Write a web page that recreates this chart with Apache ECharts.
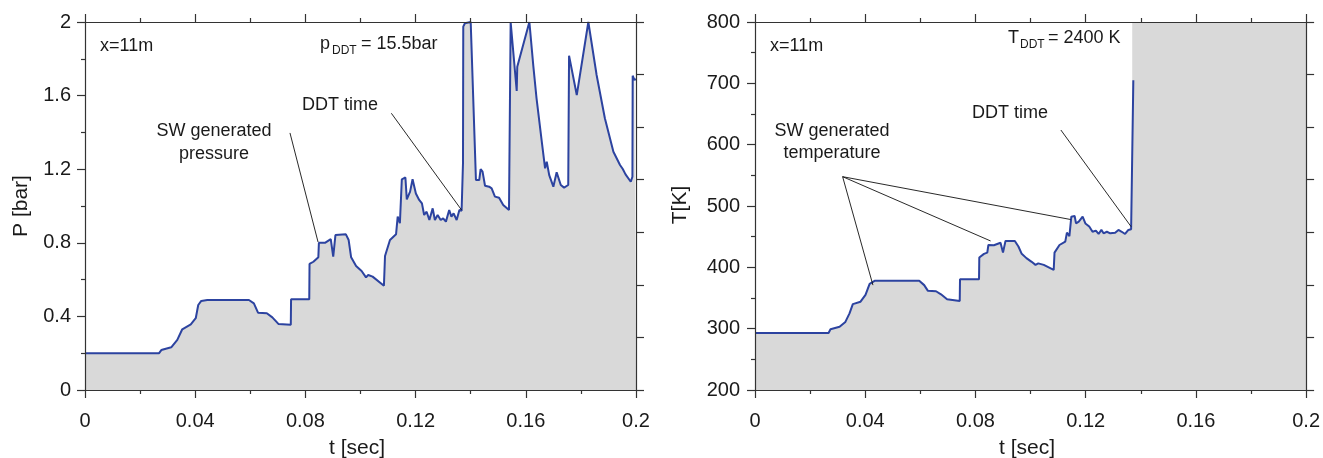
<!DOCTYPE html>
<html><head><meta charset="utf-8">
<script src="https://cdn.jsdelivr.net/npm/echarts@6/dist/echarts.min.js"></script>
<style>html,body{margin:0;padding:0;background:#fff}#c{width:1323px;height:458px}</style>
</head><body><div id="c"></div>
<script>
// ---- data ----
const tP = [0,0.0269,0.0277,0.0313,0.0335,0.0353,0.0384,0.0402,0.0411,0.0422,0.0444,0.0595,0.0613,0.0628,0.066,0.068,0.0702,0.0747,0.0748,0.0814,0.0815,0.0829,0.0847,0.0849,0.0871,0.0892,0.0901,0.0909,0.0947,0.0957,0.0966,0.0984,0.1004,0.102,0.1028,0.1044,0.1085,0.1089,0.1107,0.1129,0.1135,0.1143,0.115,0.1163,0.1168,0.118,0.1189,0.1201,0.1213,0.1223,0.1231,0.124,0.125,0.1262,0.127,0.128,0.1291,0.13,0.131,0.1322,0.133,0.1338,0.1349,0.1359,0.1367,0.1371,0.1372,0.1373,0.1379,0.14,0.1419,0.1431,0.1436,0.1443,0.1452,0.1467,0.1476,0.1488,0.1503,0.1518,0.1539,0.1545,0.1567,0.1569,0.1613,0.1627,0.1639,0.1658,0.167,0.1676,0.1685,0.17,0.1712,0.1727,0.1739,0.1754,0.1757,0.1785,0.1827,0.1857,0.1887,0.1918,0.1942,0.1952,0.1962,0.1981,0.1987,0.1988,0.1994,0.2];
const pVals = [0.2,0.2,0.217,0.232,0.272,0.33,0.357,0.39,0.462,0.484,0.489,0.489,0.471,0.42,0.417,0.395,0.359,0.355,0.493,0.493,0.685,0.697,0.721,0.8,0.8,0.82,0.725,0.842,0.846,0.815,0.721,0.674,0.647,0.612,0.625,0.616,0.567,0.728,0.815,0.846,0.942,0.906,1.145,1.155,1.036,1.078,1.145,1.068,1.033,1.014,0.951,0.969,0.924,0.987,0.924,0.951,0.924,0.933,0.915,0.978,0.942,0.96,0.924,0.978,0.974,0.978,1.232,1.975,1.993,2.0,1.141,1.141,1.201,1.187,1.11,1.105,1.096,1.051,1.045,1.005,0.978,2.0,1.625,1.757,2.0,1.766,1.585,1.35,1.205,1.241,1.168,1.105,1.183,1.114,1.1,1.114,1.817,1.603,2.0,1.712,1.477,1.295,1.223,1.201,1.172,1.132,1.159,1.708,1.685,1.69];

const tT = [0,0.0267,0.0274,0.0307,0.0328,0.0343,0.0355,0.0383,0.0401,0.0416,0.0434,0.0596,0.0614,0.0627,0.0657,0.0675,0.0697,0.0704,0.0743,0.0744,0.0813,0.0814,0.0831,0.0843,0.0847,0.0867,0.0891,0.09,0.0909,0.0943,0.0956,0.0968,0.0985,0.1004,0.1018,0.1028,0.1048,0.1084,0.1087,0.1105,0.1126,0.1132,0.1141,0.1148,0.116,0.1165,0.1175,0.1189,0.1199,0.1213,0.1225,0.1237,0.1247,0.1257,0.1265,0.1277,0.1289,0.1307,0.1319,0.1331,0.1343,0.1355,0.1365,0.1372,0.1373];
const tempVals = [293,293,299,303,311,325,340,344,355,373,378,378,371,362,361,356,348,345.7,345,380.5,380.5,416,422,424,436.4,436,440,424,443,443,434,422,415,409,404,406.5,404,395.7,424,436.4,442,456.5,451,482.6,483.7,471.6,474.5,482.6,471.6,466.5,458,459.8,454.4,461,455.5,458,455.5,456.5,461,458,454.4,461,462,465,705];
const tAfterDDT = [0.1369,0.2];
const tempAfterDDT = [2400,2400];

const xTickLabels = ['0','0.04','0.08','0.12','0.16','0.2'];
const pTickLabels = ['0','0.4','0.8','1.2','1.6','2'];
const tempTickLabels = ['200','300','400','500','600','700','800'];

// ---- styles ----
const FF = "'Liberation Sans', Arial, Helvetica, sans-serif";
const AX = '#333';
const TXT = '#1a1a1a';
const BLUE = '#2c43a0';
const GRAY = '#d9d9d9';

const chart = echarts.init(document.getElementById('c'), null, {renderer:'canvas'});

function xAx(gi, top){
  return {type:'value', gridIndex:gi, position: top?'top':'bottom', min:0, max:0.2, interval:0.04, z:10,
    axisLine:{show:true, onZero:false, lineStyle:{color:AX, width:1.2}},
    axisTick:{show:true, inside:false, length:8, lineStyle:{color:AX, width:1.2}},
    minorTick:{show:true, splitNumber:2, length:4, lineStyle:{color:AX, width:1.2}},
    axisLabel:{show:!top, margin:21, fontSize:20, color:TXT, fontFamily:FF,
      formatter:v=>xTickLabels[Math.round(v/0.04)]},
    splitLine:{show:false}, minorSplitLine:{show:false}};
}
function yAx(gi, min, max, interval, labels, margin){
  return {type:'value', gridIndex:gi, position:'left', min, max, interval, z:10,
    axisLine:{show:true, onZero:false, lineStyle:{color:AX, width:1.2}},
    axisTick:{show:true, inside:false, length:8, lineStyle:{color:AX, width:1.2}},
    minorTick:{show:true, splitNumber:2, length:4, lineStyle:{color:AX, width:1.2}},
    axisLabel:{show:true, margin, fontSize:20, color:TXT, fontFamily:FF,
      formatter:v=>labels[Math.round((v-min)/interval)]},
    splitLine:{show:false}, minorSplitLine:{show:false}};
}
function yAux(gi){
  return {type:'value', gridIndex:gi, position:'right', min:0, max:7, interval:1, z:10,
    axisLine:{show:true, onZero:false, lineStyle:{color:AX, width:1.2}},
    axisTick:{show:true, inside:false, length:8, lineStyle:{color:AX, width:1.2}},
    axisLabel:{show:false}, splitLine:{show:false}};
}
const ml = (pairs)=>({silent:true, symbol:['none','none'], animation:false,
  lineStyle:{color:'#111', width:0.9, type:'solid'}, label:{show:false}, emphasis:{disabled:true},
  data: pairs.map(p=>[{coord:p[0]},{coord:p[1]}])});

function txt(x,y,text,size,align){
  return {type:'text', x, y, z:50, style:{text, fontSize:size||18, fontFamily:FF, fill:TXT, align:align||'left', verticalAlign:'middle'}};
}

const option = {
  animation:false,
  backgroundColor:'#fff',
  grid:[
    {left:85, top:22, width:551, height:368},
    {left:755, top:22, width:553.5, height:368}
  ],
  xAxis:[xAx(0,false), xAx(0,true), xAx(1,false), xAx(1,true)],
  yAxis:[yAx(0,0,2,0.4,pTickLabels,14), yAux(0), yAx(1,200,800,100,tempTickLabels,15), yAux(1)],
  series:[
    {type:'line', xAxisIndex:0, yAxisIndex:0, data:tP.map((t,i)=>[t,pVals[i]]), symbol:'none', showSymbol:false,
      lineStyle:{color:BLUE, width:2}, areaStyle:{color:GRAY, opacity:1, origin:'start'}, z:2, clip:true,
      markLine: ml([[[0.0744,1.397],[0.0846,0.804]], [[0.1112,1.504],[0.1367,0.978]]])},
    {type:'line', xAxisIndex:2, yAxisIndex:2, data:tAfterDDT.map((t,i)=>[t,tempAfterDDT[i]]), symbol:'none', showSymbol:false,
      lineStyle:{width:0, opacity:0}, areaStyle:{color:GRAY, opacity:1, origin:'start'}, z:1, clip:true},
    {type:'line', xAxisIndex:2, yAxisIndex:2, data:tT.map((t,i)=>[t,tempVals[i]]), symbol:'none', showSymbol:false,
      lineStyle:{color:BLUE, width:2}, areaStyle:{color:GRAY, opacity:1, origin:'start'}, z:2, clip:true,
      markLine: ml([[[0.0318,547.8],[0.0428,371]], [[0.0318,547.8],[0.0855,443]], [[0.0318,547.8],[0.1145,478]], [[0.111,623.9],[0.1365,466.3]]])}
  ],
  graphic:[
    txt(100,46,'x=11m'),
    txt(320,44,'p'), txt(332,51,'DDT',12), txt(361,44,'= 15.5bar'),
    txt(302,105,'DDT time'),
    txt(214,131,'SW generated',18,'center'), txt(214,154,'pressure',18,'center'),
    txt(770,46,'x=11m'),
    txt(1008,38,'T'), txt(1020,45,'DDT',12), txt(1048,38,'= 2400 K'),
    txt(972,113,'DDT time'),
    txt(832,131,'SW generated',18,'center'), txt(832,153,'temperature',18,'center'),
    {type:'text', x:21, y:206, rotation:Math.PI/2, z:50, style:{text:'P [bar]', fontSize:21, fontFamily:FF, fill:TXT, align:'center', verticalAlign:'middle'}},
    {type:'text', x:680, y:205, rotation:Math.PI/2, z:50, style:{text:'T[K]', fontSize:21, fontFamily:FF, fill:TXT, align:'center', verticalAlign:'middle'}},
    txt(357,448,'t [sec]',21,'center'),
    txt(1027,448,'t [sec]',21,'center')
  ]
};
chart.setOption(option);
</script></body></html>
